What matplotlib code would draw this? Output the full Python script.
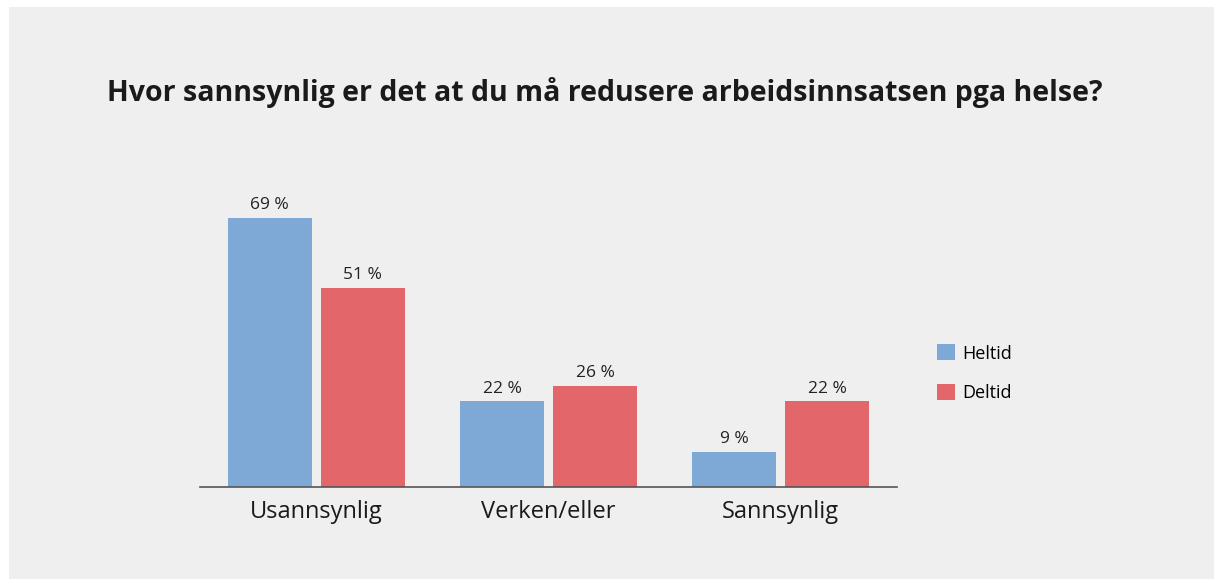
import numpy as np
import matplotlib.pyplot as plt
from matplotlib.patches import Rectangle

categories = ['Usannsynlig', 'Verken/eller', 'Sannsynlig']
heltid = [69, 22, 9]
deltid = [51, 26, 22]
series_names = ['Heltid', 'Deltid']
colors = ['#7ea9d6', '#e3676a']

plt.rcParams['font.family'] = ['Open Sans', 'DejaVu Sans']

W, H = 1215, 579
fig = plt.figure(figsize=(W / 100, H / 100), dpi=100)
fig.patch.set_facecolor('white')
# grey panel
fig.add_artist(Rectangle((9 / W, 0), (W - 10) / W, (H - 7) / H,
                         transform=fig.transFigure, facecolor='#efefef',
                         edgecolor='none', zorder=0))

# axes in pixel coordinates: left 200, right 897, bottom 487, top 180
ax = fig.add_axes([200 / W, 1 - 487 / H, 697 / W, 307 / H])
ax.set_facecolor('none')

x = np.arange(len(categories))
width = 0.361
offset = 0.2
b1 = ax.bar(x - offset, heltid, width, color=colors[0], label=series_names[0])
b2 = ax.bar(x + offset, deltid, width, color=colors[1], label=series_names[1])

for bars, vals in ((b1, heltid), (b2, deltid)):
    for b, v in zip(bars, vals):
        ax.text(b.get_x() + b.get_width() / 2, v + 1.2, f'{v} %',
                ha='center', va='bottom', fontsize=12.5, color='#222222')

ax.set_xlim(-0.5, 2.5)
ax.set_ylim(0, 307 / 3.9)
ax.set_xticks(x)
ax.set_xticklabels(categories, fontsize=17, color='#1a1a1a')
ax.tick_params(axis='x', length=0, pad=9)
ax.set_yticks([])
for s in ['top', 'right', 'left']:
    ax.spines[s].set_visible(False)
ax.spines['bottom'].set_color('#555555')
ax.spines['bottom'].set_linewidth(1.2)

leg = fig.legend(handles=[b1, b2], labels=series_names, loc='upper left',
                 bbox_to_anchor=(921 / W, 1 - 328 / H), frameon=False,
                 fontsize=13, handlelength=1.0, handleheight=1.0,
                 labelspacing=1.2, handletextpad=0.4)

fig.text(605 / W, 1 - 92 / H, 'Hvor sannsynlig er det at du må redusere arbeidsinnsatsen pga helse?',
         ha='center', va='center', fontsize=20.5, fontweight='bold', color='#1a1a1a')

fig.savefig('out.png', dpi=100)
